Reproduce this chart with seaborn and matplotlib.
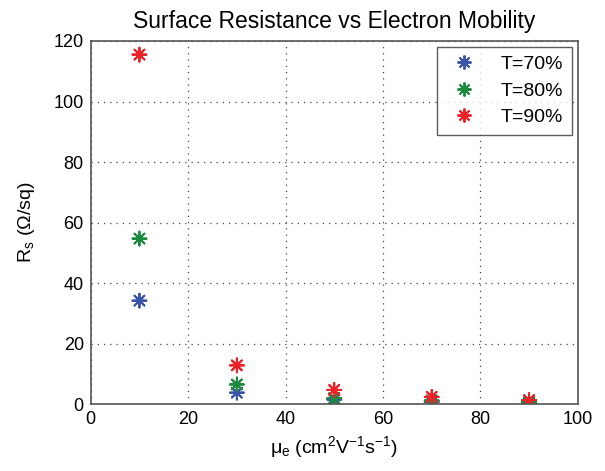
import numpy as np
import matplotlib
matplotlib.use("Agg")
import matplotlib.pyplot as plt
import pandas as pd
import seaborn as sns

sns.set_style("white")
plt.rcParams['font.family'] = ['Liberation Sans', 'DejaVu Sans']
plt.rcParams['mathtext.fontset'] = 'custom'
plt.rcParams['mathtext.rm'] = 'Liberation Sans'
plt.rcParams['mathtext.it'] = 'Liberation Sans'
for k in ['text.color', 'axes.labelcolor', 'xtick.color', 'ytick.color']:
    plt.rcParams[k] = 'black'

# data
mobility = [10, 30, 50, 70, 90]
rs_70 = [34.2, 3.8, 1.5, 0.7, 0.4]
rs_80 = [54.7, 6.5, 2.0, 1.2, 0.7]
rs_90 = [115.5, 12.8, 4.7, 2.4, 1.3]
labels = ['T=70%', 'T=80%', 'T=90%']
colors = ['#3a55a8', '#1b8a3e', '#ec2128']

df = pd.DataFrame({
    'mu': mobility * 3,
    'rs': rs_70 + rs_80 + rs_90,
    'T': [l for l in labels for _ in mobility],
})

fig = plt.figure(figsize=(6.05, 4.71), dpi=100)
ax = fig.add_axes([0.150, 0.142, 0.805, 0.771])

sns.scatterplot(data=df, x='mu', y='rs', hue='T', palette=colors,
                marker=(8, 2, 0), s=100, linewidth=1.4, ax=ax, legend=True)

ax.set_xlim(0, 100)
ax.set_ylim(0, 120)
ax.set_xticks(np.arange(0, 101, 20))
ax.set_yticks(np.arange(0, 121, 20))
ax.grid(True, linestyle=(0, (1, 4)), color='#444444', linewidth=0.9)
ax.tick_params(direction='in', labelsize=13, length=4, color='#555555', pad=5)
for sp in ax.spines.values():
    sp.set_color('#555555')
    sp.set_linewidth(1.2)

ax.set_title('Surface Resistance vs Electron Mobility', fontsize=16.5, pad=9)
ax.set_xlabel(r'$\mu_e$ (cm$^2$V$^{-1}$s$^{-1}$)', fontsize=14, labelpad=4)
ax.set_ylabel(r'R$_s$ ($\Omega$/sq)', fontsize=14, labelpad=12)

leg = ax.legend(loc='upper right', fontsize=14, frameon=True, fancybox=False,
                edgecolor='#333333', borderpad=0.45, handletextpad=1.0,
                labelspacing=0.45, borderaxespad=0.3, handlelength=1.8)
leg.get_frame().set_linewidth(1.0)

fig.savefig('out.png', dpi=100)
